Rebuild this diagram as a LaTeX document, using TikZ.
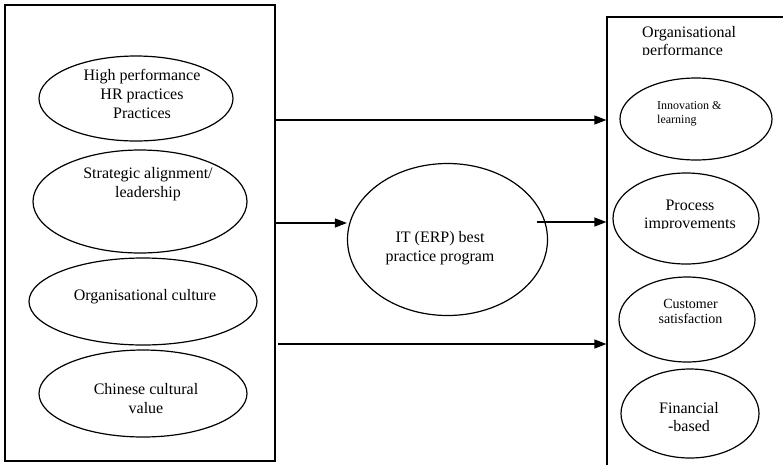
\documentclass[tikz,border=0pt]{standalone}
\usepackage{fontspec}
\setmainfont{Liberation Serif}
\usetikzlibrary{arrows.meta,shapes.geometric,fit}
\tikzset{
  ell/.style={draw, ellipse, line width=1.2pt, inner sep=0pt},
  lbl/.style={align=center, inner sep=0pt, font=\fontsize{16}{19}\selectfont},
  boxframe/.style={draw, line width=1.2pt, inner sep=0pt},
  arr/.style={line width=1.2pt, -{Triangle[length=12pt,width=9pt]}}
}
\begin{document}
\begin{tikzpicture}[x=1pt,y=-1pt]
\clip (0,0) rectangle (783,464);
\fill[white] (0,0) rectangle (783,464);
% boxes
\node[boxframe, fit={(5,5) (275,461)}] (lbox) {};
\node[boxframe, fit={(607,17) (810,490)}] (rbox) {};
% left ellipses
\node[ell, minimum width=194pt, minimum height=85pt] (e1) at (136,98.5) {};
\node[ell, minimum width=214pt, minimum height=103pt] (e2) at (140,201.5) {};
\node[ell, minimum width=228pt, minimum height=87pt] (e3) at (143,301.5) {};
\node[ell, minimum width=208pt, minimum height=87pt] (e4) at (143,393.5) {};
\node[lbl] (t1) at (142,94) {High performance\\HR practices\\Practices};
\node[lbl] (t2) at (148,184.5) {Strategic alignment/\\leadership};
\node[lbl] (t3) at (145,297) {Organisational culture};
\node[lbl] (t4) at (146,398.5) {Chinese cultural\\value};
% centre
\node[ell, minimum width=200pt, minimum height=152pt] (it) at (447.5,239.5) {};
\node[lbl] (t5) at (440,248) {IT (ERP) best\\practice program};
% right ellipses
\node[ell, minimum width=152pt, minimum height=82pt] (r1) at (696,119) {};
\node[ell, minimum width=146pt, minimum height=91pt] (r2) at (686,218.5) {};
\node[ell, minimum width=136pt, minimum height=85pt] (r3) at (687,319.5) {};
\node[ell, minimum width=138pt, minimum height=89pt] (r4) at (690,413.5) {};
\begin{scope}
\clip (608,18) rectangle (783,54);
\node[lbl, align=left, anchor=west, font=\fontsize{16}{18}\selectfont] (t6) at (642,42.5) {Organisational\\performance};
\end{scope}
\node[lbl, align=left, anchor=west, font=\fontsize{12}{14}\selectfont] (t7) at (657,114) {Innovation \&\\learning};
\begin{scope}
\clip (608,190) rectangle (783,228);
\node[lbl, font=\fontsize{16}{18}\selectfont] (t8) at (690,215.5) {Process\\improvements};
\end{scope}
\node[lbl, font=\fontsize{14}{15}\selectfont] (t9) at (690.5,311.5) {Customer\\satisfaction};
\node[lbl, font=\fontsize{16}{18}\selectfont] (t10) at (689,417) {Financial\\-based};
% arrows
\coordinate (y1) at (0,120);
\coordinate (y2) at (0,223);
\coordinate (s3) at (537,222);
\coordinate (s4) at (278,344);
\draw[arr] (lbox.east |- y1) -- (rbox.west |- y1);
\draw[arr] (lbox.east |- y2) -- (it.west |- y2);
\draw[arr] (s3) -- (rbox.west |- s3);
\draw[arr] (s4) -- (rbox.west |- s4);
\end{tikzpicture}
\end{document}
